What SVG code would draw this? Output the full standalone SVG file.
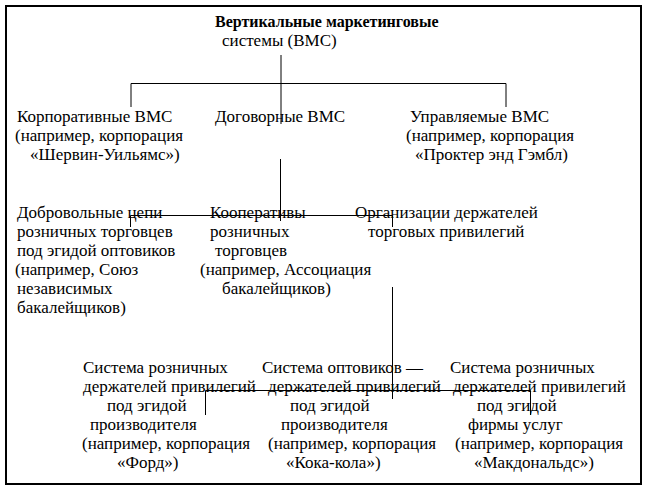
<svg xmlns="http://www.w3.org/2000/svg" width="647" height="491" viewBox="0 0 647 491">
<style>
text{font-family:'Liberation Serif','DejaVu Serif',serif;font-size:17px;fill:#000}
.b{font-weight:bold;font-size:16px}
.ln{stroke:#000;stroke-width:1;fill:none}
</style>
<rect x="0" y="0" width="647" height="491" fill="#fff"/>
<rect x="6" y="6" width="635" height="478" fill="none" stroke="#000" stroke-width="2"/>
<g id="connectors">
<path class="ln" d="M281,55V124M131,83.5H506M131,83.5V107M506,83.5V107"/>
<path class="ln" d="M280.5,159V221M130.5,215.5H392.5M130.5,215.5V227M392.5,215.5V227"/>
<path class="ln" d="M392.5,287V399M205.5,390.5H530.5M205.5,390.5V415M530.5,390.5V415"/>
</g>
<g id="root"><text class="b" x="215" y="27">Вертикальные маркетинговые</text><text x="222" y="46">системы (ВМС)</text></g>
<g id="corp"><text x="17" y="122">Корпоративные ВМС</text><text x="15" y="141">(например, корпорация</text><text x="30" y="160">«Шервин-Уильямс»)</text></g>
<g id="dogovor"><text x="215" y="122">Договорные ВМС</text></g>
<g id="upr"><text x="410" y="122">Управляемые ВМС</text><text x="406" y="141">(например, корпорация</text><text x="415" y="160">«Проктер энд Гэмбл)</text></g>
<g id="dobr"><text x="17" y="218">Добровольные цепи</text><text x="17" y="237">розничных торговцев</text><text x="17" y="256">под эгидой оптовиков</text><text x="15" y="275">(например, Союз</text><text x="17" y="294">независимых</text><text x="17" y="313">бакалейщиков)</text></g>
<g id="koop"><text x="210" y="218">Кооперативы</text><text x="210" y="237">розничных</text><text x="215" y="256">торговцев</text><text x="200" y="275">(например, Ассоциация</text><text x="222" y="294">бакалейщиков)</text></g>
<g id="org"><text x="355" y="218">Организации держателей</text><text x="368" y="237">торговых привилегий</text></g>
<g id="ford"><text x="83" y="373">Система розничных</text><text x="83" y="392">держателей привилегий</text><text x="107" y="411">под эгидой</text><text x="90" y="430">производителя</text><text x="82" y="449">(например, корпорация</text><text x="117" y="468">«Форд»)</text></g>
<g id="coke"><text x="262" y="373">Система оптовиков —</text><text x="268" y="392">держателей привилегий</text><text x="290" y="411">под эгидой</text><text x="281" y="430">производителя</text><text x="268" y="449">(например, корпорация</text><text x="286" y="468">«Кока-кола»)</text></g>
<g id="mcd"><text x="450" y="373">Система розничных</text><text x="453" y="392">держателей привилегий</text><text x="477" y="411">под эгидой</text><text x="468" y="430">фирмы услуг</text><text x="455" y="449">(например, корпорация</text><text x="474" y="468">«Макдональдс»)</text></g>
</svg>
